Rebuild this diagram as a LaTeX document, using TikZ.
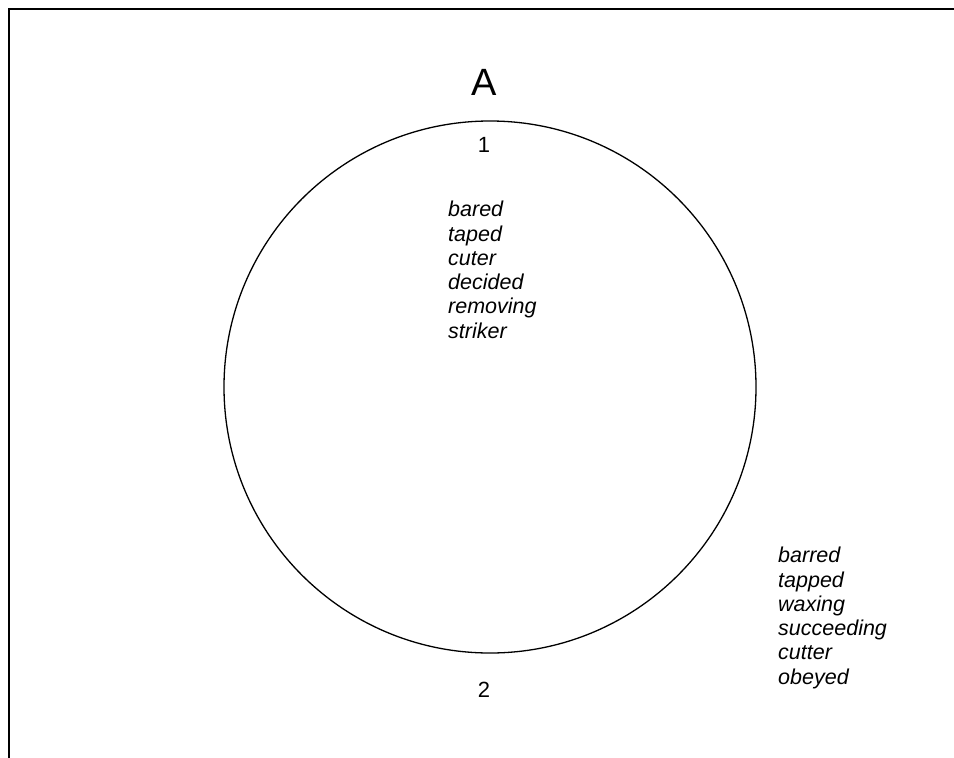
\documentclass[tikz,border=0pt]{standalone}
\usepackage{fontspec}
\setmainfont{Liberation Sans}
\begin{document}
\begin{tikzpicture}[x=1pt,y=-1pt,
  frameline/.style={line width=2.5pt,line cap=rect},
  ring/.style={circle,draw,line width=1.3pt,inner sep=0pt,minimum size=532pt},
  numlabel/.style={font=\fontsize{22}{24}\selectfont,inner sep=0pt},
  wordlist/.style={font=\fontsize{21.5}{24.3}\selectfont\itshape,align=left,inner sep=0pt,anchor=north west}]
\useasboundingbox (0,0) rectangle (954,758);
\draw[frameline] (954,9) -- (9,9) -- (9,758);
\node[ring] (c) at (490,387) {};
\node[font=\fontsize{38}{40}\selectfont,inner sep=0pt] (A) at (484,82) {A};
\node[numlabel] (n1) at (484,145) {1};
\node[numlabel] (n2) at (484,690) {2};
\node[wordlist] (l1) at (448,201) {bared\\taped\\cuter\\decided\\removing\\striker};
\node[wordlist] (l2) at (778,547) {barred\\tapped\\waxing\\succeeding\\cutter\\obeyed};
\end{tikzpicture}
\end{document}
